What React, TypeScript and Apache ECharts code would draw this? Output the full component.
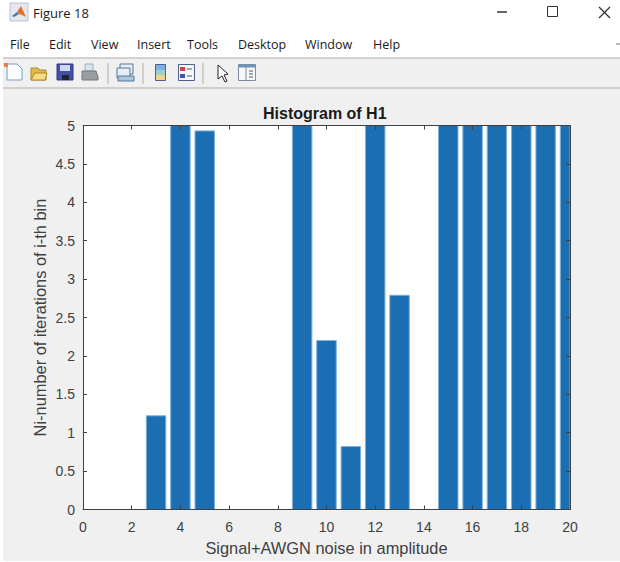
import React, { useEffect, useRef } from "react";
import * as echarts from "echarts";

// Values above 5 are clipped by the axis in the picture; their true height cannot be read.
const binCenters = [3, 4, 5, 9, 10, 11, 12, 13, 15, 16, 17, 18, 19, 20];
const binHeights = [1.22, 6, 4.93, 6, 2.2, 0.82, 6, 2.79, 6, 6, 6, 6, 6, 6];
const barWidthInBins = 0.8;
const menuLabels = ["File", "Edit", "View", "Insert", "Tools", "Desktop", "Window", "Help"];
const menuX = [10, 49, 91, 137, 187, 238, 305, 373];
const figureTitle = "Figure 18";
const chartTitle = "Histogram of H1";
const xTitle = "Signal+AWGN noise in amplitude";
const yTitle = "Ni-number of iterations of i-th bin";

const AXIS = "#404040";
const BAR = "#1c6eb3";
const FONT = "'Liberation Sans', Arial, sans-serif";
const UI = "'Open Sans', 'Noto Sans', sans-serif";

const rect = (x: number, y: number, w: number, h: number, fill: string, stroke?: string) => ({
  type: "rect", shape: { x, y, width: w, height: h }, style: { fill, stroke, lineWidth: stroke ? 1 : 0 },
});
const line = (x1: number, y1: number, x2: number, y2: number, stroke: string, lineWidth = 1) => ({
  type: "line", shape: { x1, y1, x2, y2 }, style: { stroke, lineWidth },
});
const poly = (points: number[][], fill: string, stroke?: string) => ({
  type: "polygon", shape: { points }, style: { fill, stroke, lineWidth: stroke ? 1 : 0 },
});
const label = (text: string, x: number, y: number, font: string, fill: string, extra: object = {}) => ({
  type: "text", x, y, style: { text, font, fill, textVerticalAlign: "middle", ...extra },
});

const chrome: any[] = [
  rect(0, 0, 620, 58, "#ffffff"),
  rect(0, 0, 3, 562, "#ffffff"),
  rect(0, 561, 620, 1, "#ffffff"),
  line(3, 58, 620, 58, "#c4c4c4", 1.5),
  line(3, 88, 620, 88, "#c4c4c4", 1.5),
  // window icon
  rect(10, 3, 18, 18, "#e4e8ee", "#b9c3d0"),
  poly([[12, 16], [17, 12], [19, 14], [14, 17]], "#3f78b8"),
  poly([[17, 12], [21, 6], [26, 17], [22, 15], [19, 14]], "#e2722b"),
  label(figureTitle, 33, 13, `13px ${UI}`, "#1a1a1a"),
  // window buttons
  line(497, 12, 507, 12, "#333333", 1.5),
  rect(547.5, 6.5, 10, 10, "none", "#333333"),
  line(599, 7, 610, 18, "#333333", 1.2),
  line(610, 7, 599, 18, "#333333", 1.2),
  // menu
  ...menuLabels.map((m, i) => label(m, menuX[i], 44, `12.5px ${UI}`, "#1a1a1a")),
  // new
  poly([[7, 64], [17, 64], [22, 69], [22, 80], [7, 80]], "#fbfdff", "#6e9fcb"),
  rect(4, 63, 4, 4, "#ee7f4c"),
  // open
  poly([[31, 68], [38, 68], [40, 70], [46, 70], [46, 80], [31, 80]], "#e3b84a", "#b08a28"),
  poly([[31, 80], [35, 73], [47, 73], [45, 80]], "#f5dc86", "#b08a28"),
  // save
  rect(57, 64, 16, 16, "#434fa8", "#2f3a80"),
  rect(60, 65, 10, 6, "#cfd6ee"),
  rect(62, 75, 7, 5, "#20242f"),
  // print
  rect(85, 64, 8, 7, "#d9e3ee", "#a4b0bd"),
  poly([[82, 71], [96, 71], [98, 77], [98, 80], [82, 80]], "#9a9d9f", "#77797b"),
  line(108, 63, 108, 84, "#c4c4c4", 1.5),
  // link
  rect(120, 64, 13, 10, "#e6edf5", "#55769c"),
  rect(117, 68, 13, 10, "#e6edf5", "#55769c"),
  rect(118, 76, 16, 5, "#aec4dc", "#55769c"),
  line(143, 63, 143, 84, "#c4c4c4", 1.5),
  // colorbar
  rect(155.5, 64.5, 10, 16, "#9fd0c6", "#4a5f92"),
  rect(156, 65, 9, 5, "#7fb0e4"),
  rect(156, 75, 9, 5, "#eed48c"),
  // legend
  rect(178.5, 64.5, 16, 16, "#f4f6fa", "#4a5f92"),
  rect(180, 67, 5, 4, "#d84343"),
  rect(180, 74, 5, 4, "#4350b0"),
  line(187, 69, 192, 69, "#555555"),
  line(187, 76, 192, 76, "#555555"),
  line(203, 63, 203, 84, "#c4c4c4", 1.5),
  // cursor
  poly([[218, 65], [218, 79], [222, 76], [225, 82], [227, 81], [224, 75], [228, 74]], "#ffffff", "#222222"),
  // property panel
  rect(238.5, 64.5, 17, 16, "#f6f7f8", "#7f8b98"),
  rect(238.5, 64.5, 17, 3, "#6d93b8"),
  line(246, 67, 246, 80, "#7f8b98"),
  line(249, 71, 253, 71, "#555555"),
  line(249, 74, 253, 74, "#555555"),
  line(249, 77, 253, 77, "#555555"),
  line(616, 44, 620, 44, "#777777", 1),
];

export default function App() {
  const ref = useRef<HTMLDivElement>(null);
  useEffect(() => {
    document.body.style.margin = "0";
    const chart = echarts.init(ref.current!, undefined, { renderer: "svg" });
    const axisText = { color: AXIS, fontFamily: FONT, fontSize: 14 };
    const xBase = { type: "value", min: 0, max: 20, interval: 2, z: 5 };
    const yBase = { type: "value", min: 0, max: 5, interval: 0.5, z: 5 };
    const axisLine = { show: true, onZero: false, lineStyle: { color: AXIS, width: 1 } };
    const axisTick = { show: true, inside: true, length: 4, lineStyle: { color: AXIS, width: 1 } };
    chart.setOption({
      animation: false,
      backgroundColor: "#f0f0f0",
      title: {
        text: chartTitle, left: 258, top: 100,
        textStyle: { color: "#1a1a1a", fontFamily: FONT, fontSize: 16, fontWeight: "bold" },
      },
      grid: { left: 83, top: 125.5, width: 487, height: 384, show: true, backgroundColor: "#ffffff", borderWidth: 0 },
      xAxis: [
        {
          ...xBase, position: "bottom", name: xTitle, nameLocation: "middle", nameGap: 30,
          nameMoveOverlap: false,
          nameTextStyle: { color: AXIS, fontFamily: FONT, fontSize: 16.4 },
          axisLine, axisTick, splitLine: { show: false },
          axisLabel: { ...axisText, margin: 10 },
        },
        { ...xBase, position: "top", axisLine, axisTick, axisLabel: { show: false }, splitLine: { show: false } },
      ],
      yAxis: [
        {
          ...yBase, position: "left", name: yTitle, nameLocation: "middle", nameGap: 35,
          nameMoveOverlap: false,
          nameTextStyle: { color: AXIS, fontFamily: FONT, fontSize: 16.4 },
          axisLine, axisTick, splitLine: { show: false },
          axisLabel: { ...axisText, margin: 8 },
        },
        { ...yBase, position: "right", axisLine, axisTick, axisLabel: { show: false }, splitLine: { show: false } },
      ],
      series: [
        {
          type: "custom", xAxisIndex: 0, yAxisIndex: 0, z: 2, clip: true,
          encode: { x: 0, y: 1 },
          data: binCenters.map((c, i) => [c, binHeights[i]]),
          renderItem: (params: any, api: any) => {
            const x = api.value(0);
            const y = api.value(1);
            const topLeft = api.coord([x - barWidthInBins / 2, y]);
            const bottomRight = api.coord([x + barWidthInBins / 2, 0]);
            const shape = echarts.graphic.clipRectByRect(
              { x: topLeft[0], y: topLeft[1], width: bottomRight[0] - topLeft[0], height: bottomRight[1] - topLeft[1] },
              params.coordSys,
            );
            return shape && {
              type: "rect",
              shape,
              style: { fill: BAR, stroke: "#7db3de", lineWidth: 1 },
            };
          },
        },
      ],
      graphic: { elements: chrome },
    });
    return () => chart.dispose();
  }, []);
  return <div ref={ref} style={{ width: 620, height: 562 }} />;
}
